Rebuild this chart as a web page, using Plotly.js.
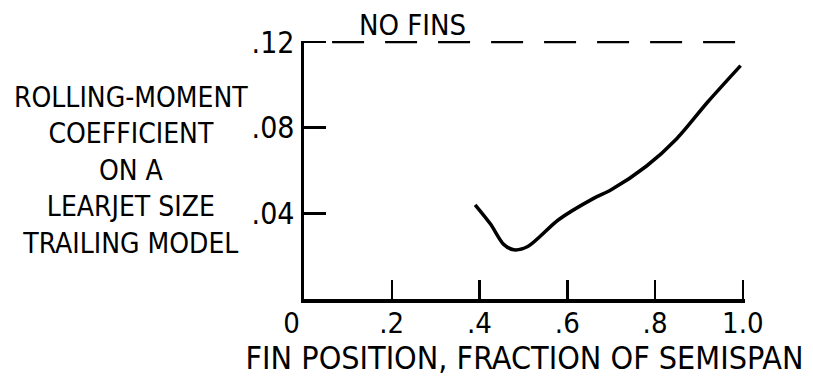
<!DOCTYPE html>
<html>
<head>
<meta charset="utf-8">
<script src="https://cdn.plot.ly/plotly-3.0.1.min.js"></script>
<style>
  html, body { margin: 0; padding: 0; background: #fff; }
  #chart { width: 813px; height: 377px; }
</style>
</head>
<body>
<div id="chart"></div>
<script>
// Fin position (fraction of semispan) and rolling-moment coefficient
var finPosition = [0.39, 0.425, 0.455, 0.478, 0.51, 0.58, 0.66, 0.70, 0.78, 0.85, 0.92, 0.995];
var rollingMoment = [0.044, 0.035, 0.0255, 0.023, 0.0245, 0.037, 0.047, 0.051, 0.062, 0.075, 0.092, 0.109];

// "No fins" reference level
var noFinsX = [0.064, 1.005];
var noFinsY = [0.12, 0.12];

// Tick values and labels
var xTickVals = [0, 0.2, 0.4, 0.6, 0.8, 1.0];
var xTickText = ['0\u00a0\u00a0\u00a0', '.2', '.4', '.6', '.8', '1.0'];
var yTickVals = [0.04, 0.08, 0.12];
var yTickText = ['.04', '.08', '.12'];

var FONT = '"DejaVu Sans Condensed", "DejaVu Sans", sans-serif';

var traces = [
  {
    x: finPosition, y: rollingMoment,
    mode: 'lines', type: 'scatter',
    line: { color: '#000', width: 3.5, shape: 'spline', smoothing: 0.8 },
    hoverinfo: 'skip', showlegend: false
  },
  {
    x: noFinsX, y: noFinsY,
    mode: 'lines', type: 'scatter',
    line: { color: '#000', width: 2.5, dash: '32px,21px' },
    hoverinfo: 'skip', showlegend: false
  }
];

var layout = {
  width: 813, height: 377,
  margin: { l: 304, r: 68, t: 41, b: 78 },
  paper_bgcolor: '#fff', plot_bgcolor: '#fff',
  font: { family: FONT, color: '#000', size: 30 },
  showlegend: false,
  xaxis: {
    range: [0, 1.005],
    tickvals: xTickVals, ticktext: xTickText,
    ticks: 'inside', ticklen: 19, tickwidth: 2.5, tickcolor: '#000',
    ticklabelstandoff: -4,
    showline: true, linewidth: 3.5, linecolor: '#000',
    showgrid: false, zeroline: false,
    tickfont: { family: FONT, size: 29, color: '#000' },
    title: { text: 'FIN POSITION, FRACTION OF SEMISPAN', font: { family: FONT, size: 32, color: '#000' }, standoff: 0 }
  },
  yaxis: {
    range: [0, 0.1205],
    tickvals: yTickVals, ticktext: yTickText,
    ticks: 'inside', ticklen: 22, tickwidth: 2.5, tickcolor: '#000',
    showline: true, linewidth: 3.5, linecolor: '#000',
    showgrid: false, zeroline: false,
    tickfont: { family: FONT, size: 30, color: '#000' }
  },
  annotations: [
    {
      xref: 'paper', yref: 'paper', x: -0.392, y: 0.498,
      xanchor: 'center', yanchor: 'middle', align: 'center',
      showarrow: false,
      text: 'ROLLING-MOMENT<br>COEFFICIENT<br>ON A<br>LEARJET SIZE<br>TRAILING MODEL',
      font: { family: FONT, size: 28, color: '#000' }
    },
    {
      xref: 'paper', yref: 'paper', x: 0.247, y: 1.062,
      xanchor: 'center', yanchor: 'middle',
      showarrow: false,
      text: 'NO FINS',
      font: { family: FONT, size: 29, color: '#000' }
    }
  ]
};

Plotly.newPlot('chart', traces, layout, { staticPlot: true, displayModeBar: false });
</script>
</body>
</html>
